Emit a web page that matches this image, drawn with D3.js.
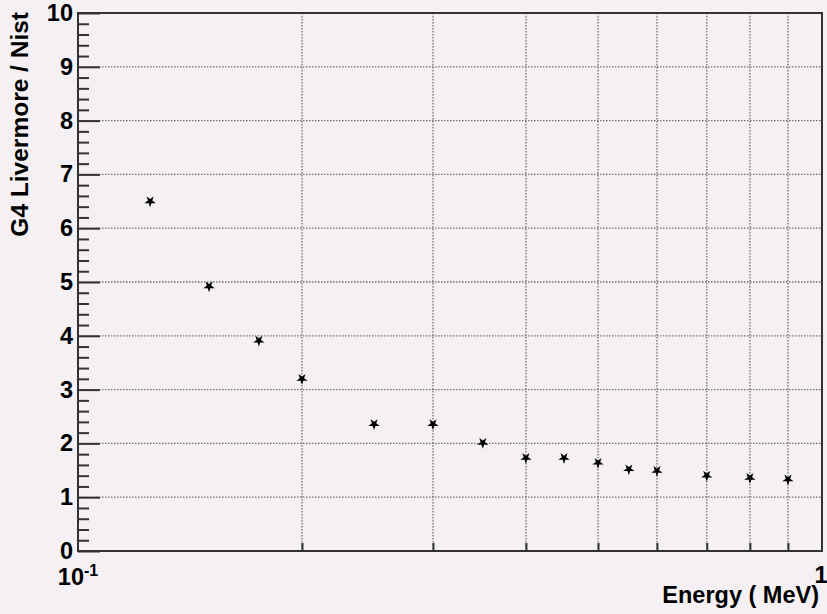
<!DOCTYPE html>
<html>
<head>
<meta charset="utf-8">
<script src="https://cdn.jsdelivr.net/npm/d3@7"></script>
<style>
  html, body { margin: 0; padding: 0; background: #f4f0f4; }
  svg { display: block; }
  text { font-family: "Liberation Sans", Arial, Helvetica, sans-serif; font-weight: bold; fill: #000; }
</style>
</head>
<body>
<svg id="chart" width="827" height="614"></svg>
<script>
// Ratio of G4 Livermore to NIST values versus photon energy
const energy = [0.125, 0.15, 0.175, 0.2, 0.25, 0.3, 0.35, 0.4, 0.45, 0.5, 0.55, 0.6, 0.7, 0.8, 0.9];
const ratio  = [6.50, 4.92, 3.91, 3.20, 2.36, 2.36, 2.01, 1.73, 1.73, 1.64, 1.52, 1.49, 1.40, 1.36, 1.33];

const yMajorTicks = [0, 1, 2, 3, 4, 5, 6, 7, 8, 9, 10];
const xGridTicks = [0.2, 0.3, 0.4, 0.5, 0.6, 0.7, 0.8, 0.9];
const xTitle = "Energy ( MeV)";
const yTitle = "G4 Livermore / Nist";

const svg = d3.select("#chart");
const plotL = 78, plotR = 822, plotT = 13, plotB = 551;

const x = d3.scaleLog().domain([0.1, 1]).range([plotL, plotR]);
const y = d3.scaleLinear().domain([0, 10]).range([plotB, plotT]);

const frameColor = "#333";
const gridColor = "#707070";

// dotted grid
const grid = svg.append("g");
grid.selectAll("line.v").data(xGridTicks).join("line")
  .attr("x1", d => x(d)).attr("x2", d => x(d))
  .attr("y1", plotT).attr("y2", plotB)
  .attr("stroke", gridColor).attr("stroke-width", 1.3)
  .attr("stroke-dasharray", "1.5,1.5");
grid.selectAll("line.h").data(yMajorTicks.filter(d => d > 0 && d < 10)).join("line")
  .attr("x1", plotL).attr("x2", plotR)
  .attr("y1", d => y(d)).attr("y2", d => y(d))
  .attr("stroke", gridColor).attr("stroke-width", 1.3)
  .attr("stroke-dasharray", "1.5,1.5");

// inward ticks on the y axis
const yMinor = d3.range(0, 50).map(i => i / 5).filter(v => Math.abs(v - Math.round(v)) > 1e-9);
function styleTicks(g) {
  g.select(".domain").remove();
  g.selectAll(".tick line").attr("stroke", frameColor).attr("stroke-width", 2);
  g.selectAll(".tick text").remove();
}
svg.append("g").attr("transform", `translate(${plotL},0)`)
  .call(d3.axisRight(y).tickValues(yMajorTicks).tickSize(22).tickFormat(""))
  .call(styleTicks);
svg.append("g").attr("transform", `translate(${plotL},0)`)
  .call(d3.axisRight(y).tickValues(yMinor).tickSize(11).tickFormat(""))
  .call(styleTicks);

// inward ticks on the x axis
svg.append("g").attr("transform", `translate(0,${plotB})`)
  .call(d3.axisTop(x).tickValues(xGridTicks).tickSize(8).tickFormat(""))
  .call(styleTicks);

// y tick labels
const yLab = svg.append("g").attr("transform", `translate(${plotL},0)`)
  .call(d3.axisLeft(y).tickValues(yMajorTicks).tickSize(0).tickPadding(5).tickFormat(d3.format("d")));
yLab.select(".domain").remove();
yLab.selectAll(".tick text")
  .attr("font-size", 23.5).attr("font-weight", "bold")
  .attr("font-family", "'Liberation Sans', Arial, sans-serif")
  .attr("fill", "#000");

// x decade labels
const xl = svg.append("g");
const t1 = xl.append("text").attr("x", x(0.1)).attr("y", 585)
  .attr("text-anchor", "middle").attr("font-size", 23.5);
t1.append("tspan").text("10");
t1.append("tspan").attr("dy", -9).attr("font-size", 16).text("-1");
xl.append("text").attr("x", x(1) - 1).attr("y", 583)
  .attr("text-anchor", "middle").attr("font-size", 23.5).text("1");

// frame
svg.append("rect")
  .attr("x", plotL).attr("y", plotT)
  .attr("width", plotR - plotL).attr("height", plotB - plotT)
  .attr("fill", "none").attr("stroke", frameColor).attr("stroke-width", 2);

// axis titles
svg.append("text").attr("x", 819).attr("y", 603)
  .attr("text-anchor", "end").attr("font-size", 23.5).text(xTitle);
svg.append("text")
  .attr("transform", `translate(28,${plotT - 1}) rotate(-90)`)
  .attr("text-anchor", "end").attr("font-size", 24.5).text(yTitle);

// data markers
svg.append("g").selectAll("path").data(energy).join("path")
  .attr("d", d3.symbol(d3.symbolStar, 40))
  .attr("transform", (d, i) => `translate(${x(d)},${y(ratio[i])}) rotate(180)`)
  .attr("fill", "#000");
</script>
</body>
</html>
